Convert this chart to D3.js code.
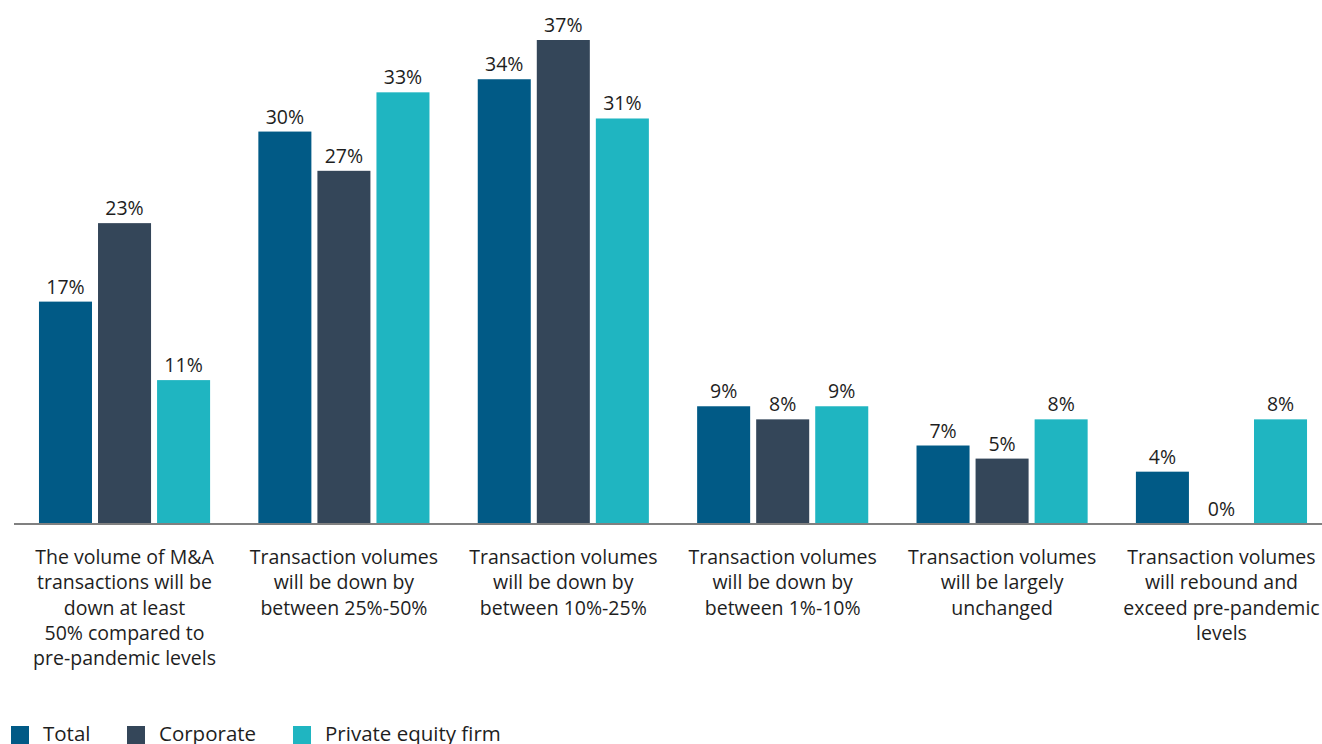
<!DOCTYPE html>
<html>
<head>
<meta charset="utf-8">
<script src="https://cdn.jsdelivr.net/npm/d3@7"></script>
<style>
  html, body { margin: 0; padding: 0; background: #fff; }
  svg { display: block; }
  text { font-family: "Open Sans", Lato, "Noto Sans", sans-serif; font-weight: 400; fill: #1e1e1e; }
</style>
</head>
<body>
<svg id="chart" width="1322" height="744"></svg>
<script>
const categories = [
  ["The volume of M&A", "transactions will be", "down at least", "50% compared to", "pre-pandemic levels"],
  ["Transaction volumes", "will be down by", "between 25%-50%"],
  ["Transaction volumes", "will be down by", "between 10%-25%"],
  ["Transaction volumes", "will be down by", "between 1%-10%"],
  ["Transaction volumes", "will be largely", "unchanged"],
  ["Transaction volumes", "will rebound and", "exceed pre-pandemic", "levels"]
];
const seriesNames = ["Total", "Corporate", "Private equity firm"];
// bar heights as drawn
const totalValues = [17, 30, 34, 9, 6, 4];
const corporateValues = [23, 27, 37, 8, 5, 0];
const privateEquityValues = [11, 33, 31, 9, 8, 8];
// labels as printed
const totalLabels = ["17%", "30%", "34%", "9%", "7%", "4%"];
const corporateLabels = ["23%", "27%", "37%", "8%", "5%", "0%"];
const privateEquityLabels = ["11%", "33%", "31%", "9%", "8%", "8%"];
const colors = ["#015a86", "#344659", "#1fb5c1"];

const seriesValues = [totalValues, corporateValues, privateEquityValues];
const seriesLabels = [totalLabels, corporateLabels, privateEquityLabels];
const catIdx = d3.range(categories.length);

const svg = d3.select("#chart");
const baseline = 524;

const x0 = d3.scaleBand().domain(catIdx).range([28, 1318]).paddingInner(0.22).paddingOuter(0.05);
const x1 = d3.scaleBand().domain(d3.range(seriesNames.length)).range([0, x0.bandwidth()]).paddingInner(0.102);
const y = d3.scaleLinear().domain([0, 37]).range([baseline, 40]);

const groups = svg.selectAll("g.grp").data(catIdx).join("g")
  .attr("class", "grp")
  .attr("transform", i => `translate(${x0(i)},0)`);

const cell = i => seriesValues.map((vals, s) => ({s, v: vals[i], l: seriesLabels[s][i]}));

groups.selectAll("rect").data(cell).join("rect")
  .attr("x", d => x1(d.s))
  .attr("y", d => y(d.v))
  .attr("width", x1.bandwidth())
  .attr("height", d => baseline - y(d.v))
  .attr("fill", d => colors[d.s]);

groups.selectAll("text.val").data(cell).join("text")
  .attr("class", "val")
  .attr("x", d => x1(d.s) + x1.bandwidth() / 2)
  .attr("y", d => y(d.v) - 8)
  .attr("text-anchor", "middle")
  .attr("font-size", 19.5)
  .text(d => d.l);

// baseline axis
svg.append("line")
  .attr("x1", 14).attr("x2", 1322)
  .attr("y1", baseline).attr("y2", baseline)
  .attr("stroke", "#808080").attr("stroke-width", 2);

// category labels
const lab = svg.selectAll("text.cat").data(catIdx).join("text")
  .attr("class", "cat")
  .attr("text-anchor", "middle")
  .attr("font-size", 19.5);
lab.each(function(i) {
  const t = d3.select(this);
  categories[i].forEach((line, k) => {
    t.append("tspan")
      .attr("x", x0(i) + x0.bandwidth() / 2)
      .attr("y", 564 + k * 25.3)
      .text(line);
  });
});

// legend
const legendX = [11, 127, 293];
const lg = svg.selectAll("g.leg").data(seriesNames).join("g")
  .attr("class", "leg")
  .attr("transform", (d, i) => `translate(${legendX[i]},726)`);
lg.append("rect").attr("width", 18).attr("height", 18).attr("fill", (d, i) => colors[i]);
lg.append("text").attr("x", 32).attr("y", 15).attr("font-size", 20.5).text(d => d);
</script>
</body>
</html>
